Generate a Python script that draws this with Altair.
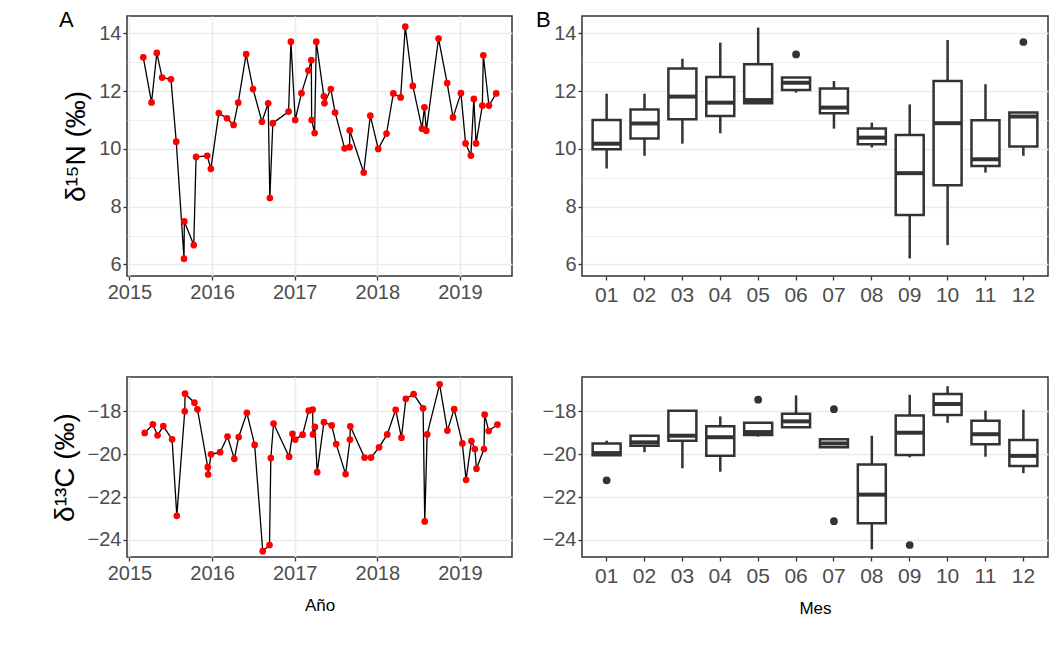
import pandas as pd
import altair as alt

# --- panel A: time series (decimal year) ---
n_year = [2015.167, 2015.267, 2015.331, 2015.395, 2015.502, 2015.566, 2015.660, 2015.664,
          2015.778, 2015.806, 2015.941, 2015.985, 2016.081, 2016.180, 2016.260, 2016.316,
          2016.412, 2016.496, 2016.603, 2016.679, 2016.699, 2016.735, 2016.926, 2016.954,
          2017.006, 2017.082, 2017.166, 2017.201, 2017.205, 2017.241, 2017.261, 2017.353,
          2017.360, 2017.437, 2017.489, 2017.604, 2017.664, 2017.666, 2017.835, 2017.915,
          2018.011, 2018.111, 2018.194, 2018.282, 2018.338, 2018.430, 2018.541, 2018.570,
          2018.593, 2018.741, 2018.845, 2018.916, 2019.012, 2019.068, 2019.132, 2019.168,
          2019.195, 2019.271, 2019.283, 2019.351, 2019.439]
n_val = [13.17, 11.61, 13.32, 12.47, 12.41, 10.25, 6.20, 7.49,
         6.67, 9.72, 9.76, 9.31, 11.24, 11.06, 10.83, 11.60,
         13.28, 12.07, 10.94, 11.58, 8.30, 10.89, 11.29, 13.71,
         11.00, 11.93, 12.71, 13.07, 11.00, 10.55, 13.71, 11.82,
         11.58, 12.07, 11.26, 10.02, 10.06, 10.64, 9.18, 11.15,
         10.00, 10.53, 11.92, 11.78, 14.23, 12.18, 10.70, 11.44,
         10.63, 13.82, 12.28, 11.09, 11.93, 10.19, 9.77, 11.73,
         10.19, 11.50, 13.24, 11.50, 11.92]

c_year = [2015.184, 2015.283, 2015.340, 2015.409, 2015.516, 2015.573, 2015.669, 2015.673,
          2015.786, 2015.823, 2015.948, 2015.952, 2015.987, 2016.097, 2016.187, 2016.269,
          2016.322, 2016.421, 2016.515, 2016.613, 2016.695, 2016.711, 2016.744, 2016.932,
          2016.973, 2017.006, 2017.096, 2017.170, 2017.217, 2017.221, 2017.244, 2017.272,
          2017.354, 2017.448, 2017.502, 2017.616, 2017.669, 2017.673, 2017.845, 2017.923,
          2018.021, 2018.120, 2018.222, 2018.292, 2018.345, 2018.439, 2018.554, 2018.574,
          2018.603, 2018.754, 2018.848, 2018.930, 2019.029, 2019.074, 2019.139, 2019.180,
          2019.200, 2019.291, 2019.299, 2019.348, 2019.454]
c_val = [-19.01, -18.61, -19.12, -18.69, -19.31, -22.88, -18.00, -17.18,
         -17.60, -17.91, -20.61, -20.95, -20.01, -19.91, -19.18, -20.22,
         -19.20, -18.07, -19.57, -24.53, -24.24, -20.18, -18.57, -20.12,
         -19.05, -19.32, -19.09, -17.97, -17.92, -19.08, -18.73, -20.84,
         -18.51, -18.66, -19.53, -20.93, -19.32, -18.70, -20.16, -20.16,
         -19.68, -19.08, -17.93, -19.23, -17.42, -17.20, -17.86, -23.14,
         -19.08, -16.74, -18.90, -17.90, -19.50, -21.20, -19.39, -19.76,
         -20.68, -19.76, -18.16, -18.92, -18.62]

# --- panel B: monthly box summaries ---
months = ["01", "02", "03", "04", "05", "06", "07", "08", "09", "10", "11", "12"]
n_lo = [9.32, 9.76, 10.18, 10.54, 11.58, 11.95, 10.70, 10.05, 6.21, 6.67, 9.18, 9.76]
n_q1 = [9.99, 10.36, 11.03, 11.14, 11.58, 12.04, 11.23, 10.16, 7.71, 8.74, 9.41, 10.08]
n_med = [10.18, 10.88, 11.81, 11.60, 11.69, 12.29, 11.43, 10.39, 9.16, 10.89, 9.64, 11.12]
n_q3 = [11.00, 11.36, 12.78, 12.49, 12.93, 12.47, 12.09, 10.71, 10.48, 12.35, 10.99, 11.26]
n_hi = [11.91, 11.91, 13.12, 13.68, 14.20, 12.47, 12.35, 10.91, 11.54, 13.77, 12.24, 11.26]
n_out_m = ["06", "12"]
n_out_v = [13.27, 13.70]

c_lo = [-20.05, -19.91, -20.66, -20.82, -19.18, -18.74, -19.68, -24.44, -20.15, -18.54, -20.12, -20.89]
c_q1 = [-20.05, -19.61, -19.37, -20.08, -19.11, -18.74, -19.68, -23.23, -20.04, -18.17, -19.54, -20.55]
c_med = [-19.95, -19.45, -19.14, -19.21, -18.97, -18.47, -19.50, -21.89, -19.00, -17.66, -19.07, -20.08]
c_q3 = [-19.50, -19.14, -17.97, -18.70, -18.54, -18.11, -19.30, -20.48, -18.20, -17.19, -18.44, -19.34]
c_hi = [-19.37, -19.10, -17.97, -18.24, -18.54, -17.26, -19.30, -19.14, -17.23, -16.83, -17.97, -17.93]
c_out_m = ["01", "05", "07", "07", "09"]
c_out_v = [-21.22, -17.46, -17.90, -23.13, -24.24]

GRAY = "#4d4d4d"


def y_axis(title, major_step):
    return alt.Axis(
        title=title, titleFontSize=28, titleFontWeight="normal", titleColor="black",
        titleFont="Liberation Sans", titlePadding=8,
        labelFontSize=20, labelColor=GRAY, labelFont="Liberation Sans",
        labelExpr=f"datum.value % {major_step} == 0 ? datum.label : ''",
        tickColor="#333", tickSize=4, tickWidth=1.3,
        tickOpacity={"condition": {"test": f"datum.value % {major_step} != 0", "value": 0}, "value": 1},
        gridColor="#ebebeb",
        gridWidth={"condition": {"test": f"datum.value % {major_step} != 0", "value": 0.8}, "value": 1.6},
        domain=False,
    )


def year_axis(title):
    kw = dict(
        values=[2015 + i * 0.5 for i in range(10)], format="d",
        labelFontSize=20, labelColor=GRAY, labelFont="Liberation Sans",
        labelExpr="datum.value % 1 == 0 ? datum.label : ''",
        tickColor="#333", tickSize=4, tickWidth=1.3,
        tickOpacity={"condition": {"test": "datum.value % 1 != 0", "value": 0}, "value": 1},
        gridColor="#ebebeb",
        gridWidth={"condition": {"test": "datum.value % 1 != 0", "value": 0.8}, "value": 1.6},
        domain=False, titleFontSize=17, titleFontWeight="normal", titleColor="black",
        titleFont="Liberation Sans", titlePadding=14,
    )
    return alt.Axis(title=title, **kw) if title else alt.Axis(title=None, **kw)


def month_axis(title):
    kw = dict(labelFontSize=21, labelColor=GRAY, labelFont="Liberation Sans", labelAngle=0,
              labelPadding=4, tickColor="#333", tickSize=4, tickWidth=1.3, gridColor="#ebebeb",
              gridWidth=1.6, domain=False, titleFontSize=17, titleFontWeight="normal",
              titleColor="black", titleFont="Liberation Sans", titlePadding=14)
    return alt.Axis(title=title, **kw) if title else alt.Axis(title=None, **kw)


def letter(t, dx):
    return alt.Chart(pd.DataFrame({"t": [t]})).mark_text(
        fontSize=22, font="Liberation Sans", align="left", baseline="top"
    ).encode(text="t:N", x=alt.value(dx), y=alt.value(-6))


def series(years, vals, ydom, title, xtitle, w, h, lab=None):
    df = pd.DataFrame({"year": years, "val": vals, "i": range(len(vals))})
    x = alt.X("year:Q", scale=alt.Scale(domain=[2014.97, 2019.63], nice=False, zero=False),
              axis=year_axis(xtitle))
    y = alt.Y("val:Q", scale=alt.Scale(domain=ydom, nice=False, zero=False),
              axis=y_axis(title, 2))
    base = alt.Chart(df)
    layers = [base.mark_line(color="black", strokeWidth=1.3).encode(x=x, y=y, order="i:Q"),
              base.mark_circle(color="red", size=45, opacity=1).encode(x=x, y=y)]
    if lab:
        layers.append(letter(lab, -68))
    return alt.layer(*layers).properties(width=w, height=h)


def boxes(lo, q1, med, q3, hi, out_m, out_v, ydom, xtitle, w, h, lab=None):
    df = pd.DataFrame({"m": months, "lo": lo, "q1": q1, "med": med, "q3": q3, "hi": hi})
    od = pd.DataFrame({"m": out_m, "v": out_v})
    x = alt.X("m:N", sort=months, axis=month_axis(xtitle),
              scale=alt.Scale(paddingInner=0, paddingOuter=0.15))
    ysc = alt.Scale(domain=ydom, nice=False, zero=False)
    base = alt.Chart(df)
    whisk = base.mark_rule(color="#333", strokeWidth=2.5).encode(
        x=x, y=alt.Y("lo:Q", scale=ysc, axis=y_axis(None, 2)), y2="hi:Q")
    box = base.mark_bar(size=28, fill="white", stroke="#333", strokeWidth=2.5).encode(
        x=x, y="q1:Q", y2="q3:Q")
    mid = base.mark_tick(color="#333", thickness=4, size=28, opacity=1).encode(x=x, y="med:Q")
    pts = alt.Chart(od).mark_circle(color="#333", size=60, opacity=1).encode(
        x=alt.X("m:N", sort=months), y=alt.Y("v:Q", scale=ysc))
    layers = [whisk, box, mid, pts]
    if lab:
        layers.append(letter(lab, -46))
    return alt.layer(*layers).properties(width=w, height=h)


LW, RW, TH, BH = 385, 466, 260, 180

a_top = series(n_year, n_val, [5.6, 14.6], "δ¹⁵N (‰)", None, LW, TH, "A")
a_bot = series(c_year, c_val, [-24.8, -16.4], "δ¹³C (‰)", "Año", LW, BH)
b_top = boxes(n_lo, n_q1, n_med, n_q3, n_hi, n_out_m, n_out_v, [5.6, 14.6], None, RW, TH, "B")
b_bot = boxes(c_lo, c_q1, c_med, c_q3, c_hi, c_out_m, c_out_v, [-24.8, -16.4], "Mes", RW, BH)

chart = alt.concat(
    a_top, b_top, a_bot, b_bot, columns=2, spacing={"row": 70, "column": 22}
).properties(
    padding={"left": 42, "top": 0, "right": 0, "bottom": 0}
).configure(background="white").configure_view(stroke="#333", strokeWidth=1.5)

chart.save("out.html", embed_options={"renderer": "svg", "actions": False})
